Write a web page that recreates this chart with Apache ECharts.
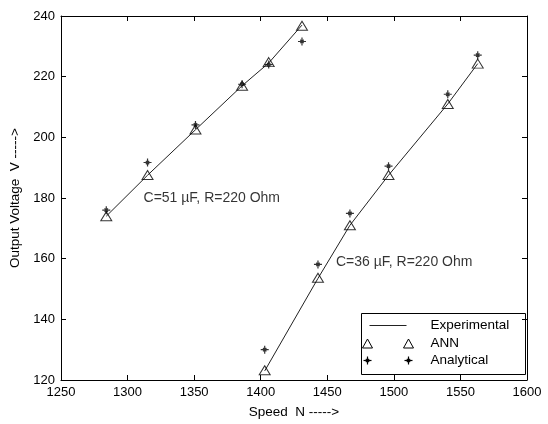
<!DOCTYPE html>
<html>
<head>
<meta charset="utf-8">
<script src="https://cdn.jsdelivr.net/npm/echarts@6/dist/echarts.min.js"></script>
<style>
  html, body { margin: 0; padding: 0; background: #fff; }
  #chart { width: 548px; height: 424px; }
</style>
</head>
<body>
<div id="chart"></div>
<script>
// C=51 uF curve
const speed51 = [1284, 1315, 1351, 1386, 1406, 1431];
const exp51 = [174, 187.5, 202.5, 217, 224.5, 237];
const ann51 = [174, 187.6, 202.6, 217, 224.8, 236.8];
const ana51 = [176, 191.7, 204.1, 217.5, 224, 231.6];

// C=36 uF curve
const speed36 = [1403, 1443, 1467, 1496, 1540.5, 1563];
const exp36 = [123, 153.5, 171, 187.5, 211, 224.3];
const ann36 = [123.2, 153.7, 171, 187.6, 211, 224.3];
const ana36 = [130, 158.1, 174.9, 190.5, 214.2, 227.1];

// axis ticks
const xRange = [1250, 1600];
const xStep = 50;
const yRange = [120, 240];
const yStep = 20;

// curve annotations
const noteText = ['C=51 µF, R=220 Ohm', 'C=36 µF, R=220 Ohm'];
const noteAt = [[1312, 180], [1456.5, 158.8]];

const legendNames = ['Experimental', 'ANN', 'Analytical'];

const FONT = 'Liberation Sans, Arial, sans-serif';
const starPath = 'path://M4,0L4,8M0,4L8,4M2.3,2.3L5.7,5.7M5.7,2.3L2.3,5.7';

const pairs = (xs, ys) => xs.map((x, i) => [x, ys[i]]);

const groups = [
  { speed: speed51, exp: exp51, ann: ann51, ana: ana51 },
  { speed: speed36, exp: exp36, ann: ann36, ana: ana36 }
];

const series = [];
groups.forEach(g => {
  series.push({
    type: 'line', name: 'Experimental', data: pairs(g.speed, g.exp),
    symbol: 'none', lineStyle: { color: '#222', width: 1 }, z: 2
  });
  series.push({
    type: 'scatter', name: 'ANN', data: pairs(g.speed, g.ann),
    symbol: 'triangle', symbolSize: [11, 9],
    itemStyle: { color: 'rgba(0,0,0,0)', borderColor: '#000', borderWidth: 1 }, z: 3
  });
  series.push({
    type: 'scatter', name: 'Analytical', data: pairs(g.speed, g.ana),
    symbol: starPath, symbolSize: 8,
    itemStyle: { color: 'none', borderColor: '#000', borderWidth: 1.2 }, z: 4
  });
});
series.push({
  type: 'scatter', name: 'notes', symbolSize: 0, silent: true,
  data: noteAt.map((p, i) => ({ value: p, label: { formatter: noteText[i] } })),
  label: { show: true, position: 'right', distance: 0, color: '#000', fontSize: 14, fontFamily: FONT }
});

// legend box drawn as graphic (Matlab style: line / marker marker)
function tri(cx, cy) {
  return { type: 'polygon', shape: { points: [[cx - 5, cy + 4.5], [cx, cy - 4.5], [cx + 5, cy + 4.5]] },
    style: { fill: 'none', stroke: '#000', lineWidth: 1 } };
}
function star(cx, cy) {
  return { type: 'group', x: cx - 4, y: cy - 4, children: [
    [4, 0, 4, 8], [0, 4, 8, 4], [2.3, 2.3, 5.7, 5.7], [5.7, 2.3, 2.3, 5.7]
  ].map(s => ({ type: 'line', shape: { x1: s[0], y1: s[1], x2: s[2], y2: s[3] },
    style: { stroke: '#000', lineWidth: 1.2 } })) };
}
const rowY = [12, 30, 47];
const legendGraphic = {
  type: 'group', left: 360, top: 313, children: [
    { type: 'rect', shape: { x: 0, y: 0, width: 164, height: 61 },
      style: { fill: '#fff', stroke: '#000', lineWidth: 1 } },
    { type: 'line', shape: { x1: 8, y1: rowY[0], x2: 45, y2: rowY[0] },
      style: { stroke: '#222', lineWidth: 1 } },
    tri(6, rowY[1]), tri(47, rowY[1]),
    star(6, rowY[2]), star(47, rowY[2])
  ].concat(legendNames.map((n, i) => ({
    type: 'text', x: 69, y: rowY[i],
    style: { text: n, fill: '#000', font: '13.5px ' + FONT, textVerticalAlign: 'middle' }
  })))
};

const axisCommon = {
  type: 'value',
  axisLine: { show: true, onZero: false, lineStyle: { color: '#000', width: 1 } },
  axisTick: { show: true, inside: true, length: 5, lineStyle: { color: '#000' } },
  splitLine: { show: false }
};
const labelStyle = { color: '#000', fontSize: 13, fontFamily: FONT, formatter: v => String(v) };
const nameStyle = { color: '#000', fontSize: 13.5, fontFamily: FONT };

const chart = echarts.init(document.getElementById('chart'));
chart.setOption({
  backgroundColor: '#fff',
  animation: false,
  grid: { left: 61, right: 21, top: 16, bottom: 40, show: false },
  xAxis: [
    Object.assign({}, axisCommon, {
      min: xRange[0], max: xRange[1], interval: xStep, position: 'bottom',
      axisLabel: Object.assign({ margin: 6 }, labelStyle),
      name: 'Speed  N ----->', nameLocation: 'middle', nameGap: 25, nameTextStyle: nameStyle
    }),
    Object.assign({}, axisCommon, {
      min: xRange[0], max: xRange[1], interval: xStep, position: 'top',
      axisLabel: { show: false }
    })
  ],
  yAxis: [
    Object.assign({}, axisCommon, {
      min: yRange[0], max: yRange[1], interval: yStep, position: 'left',
      axisLabel: Object.assign({ margin: 6 }, labelStyle),
      name: 'Output Voltage  V ----->', nameLocation: 'middle', nameGap: 30, nameTextStyle: nameStyle
    }),
    Object.assign({}, axisCommon, {
      min: yRange[0], max: yRange[1], interval: yStep, position: 'right',
      axisLabel: { show: false }
    })
  ],
  graphic: [legendGraphic],
  series
});
</script>
</body>
</html>
